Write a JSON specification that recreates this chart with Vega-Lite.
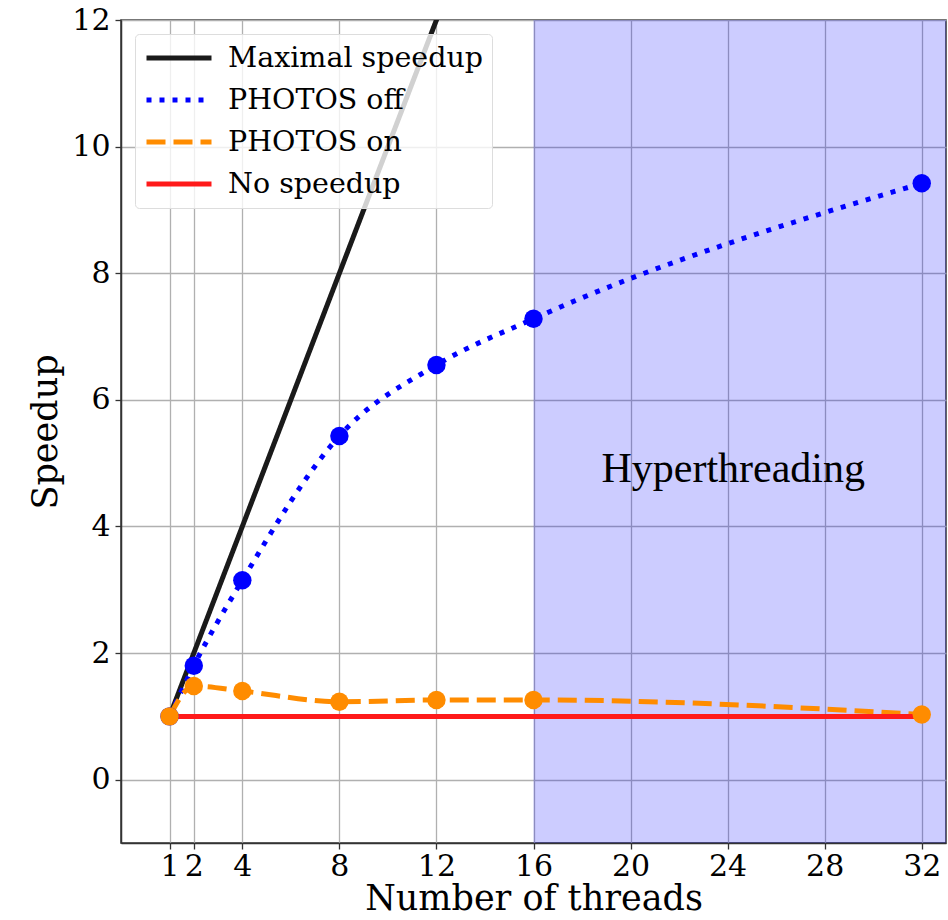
{
  "$schema": "https://vega.github.io/schema/vega-lite/v6.json",
  "autosize": "none",
  "padding": {"left": 121, "top": 20, "right": 2, "bottom": 77},
  "width": 825,
  "height": 823,
  "background": "white",
  "config": {
    "font": "DejaVu Serif",
    "view": {"stroke": "#333333", "strokeWidth": 1.5},
    "axis": {
      "grid": true,
      "gridColor": "#b0b0b0",
      "gridWidth": 1.3,
      "tickColor": "#333333",
      "tickSize": 6,
      "tickWidth": 1.3,
      "domainColor": "#333333",
      "domainWidth": 1.5,
      "labelColor": "black",
      "titleColor": "black",
      "labelFont": "DejaVu Serif",
      "titleFont": "DejaVu Serif",
      "labelFontSize": 30,
      "titleFontSize": 35,
      "titleFontWeight": "normal"
    },
    "legend": {
      "orient": "top-left",
      "offset": 14,
      "title": null,
      "symbolType": "stroke",
      "symbolSize": 4225,
      "symbolStrokeWidth": 5,
      "clipHeight": 30,
      "rowPadding": 12,
      "labelFont": "DejaVu Serif",
      "labelFontSize": 28.5,
      "labelColor": "black",
      "labelOffset": 14,
      "labelLimit": 400,
      "padding": 9,
      "fillColor": "rgba(255,255,255,0.8)",
      "strokeColor": "#dddddd",
      "cornerRadius": 4
    }
  },
  "datasets": {
    "lines": [
      {"series": "Maximal speedup", "threads": 1, "speedup": 1},
      {"series": "Maximal speedup", "threads": 32, "speedup": 32},
      {"series": "PHOTOS off", "threads": 1, "speedup": 1},
      {"series": "PHOTOS off", "threads": 2, "speedup": 1.8},
      {"series": "PHOTOS off", "threads": 4, "speedup": 3.15},
      {"series": "PHOTOS off", "threads": 8, "speedup": 5.43},
      {"series": "PHOTOS off", "threads": 12, "speedup": 6.55},
      {"series": "PHOTOS off", "threads": 16, "speedup": 7.28},
      {"series": "PHOTOS off", "threads": 32, "speedup": 9.42},
      {"series": "PHOTOS on", "threads": 1, "speedup": 1},
      {"series": "PHOTOS on", "threads": 2, "speedup": 1.48},
      {"series": "PHOTOS on", "threads": 4, "speedup": 1.4},
      {"series": "PHOTOS on", "threads": 8, "speedup": 1.23},
      {"series": "PHOTOS on", "threads": 12, "speedup": 1.26},
      {"series": "PHOTOS on", "threads": 16, "speedup": 1.26},
      {"series": "PHOTOS on", "threads": 32, "speedup": 1.03},
      {"series": "No speedup", "threads": 1, "speedup": 1},
      {"series": "No speedup", "threads": 32, "speedup": 1}
    ],
    "label": [{"text": "Hyperthreading"}]
  },
  "layer": [
    {
      "data": {"values": [{"region": "Hyperthreading"}]},
      "mark": {"type": "rect", "color": "#0000ff", "opacity": 0.2, "clip": true},
      "encoding": {
        "x": {"datum": 16, "type": "quantitative"},
        "x2": {"datum": 40},
        "y": {"datum": -5, "type": "quantitative"},
        "y2": {"datum": 20}
      }
    },
    {
      "data": {"name": "lines"},
      "mark": {"type": "line", "interpolate": "monotone", "strokeWidth": 5, "clip": true, "strokeCap": "butt"},
      "encoding": {
        "x": {
          "field": "threads", "type": "quantitative",
          "scale": {"domain": [-1, 33], "nice": false, "zero": false},
          "axis": {"title": "Number of threads", "values": [1, 2, 4, 8, 12, 16, 20, 24, 28, 32], "format": "d", "labelPadding": 2, "titlePadding": 0}
        },
        "y": {
          "field": "speedup", "type": "quantitative",
          "scale": {"domain": [-1, 12], "nice": false, "zero": false},
          "axis": {"title": "Speedup", "values": [0, 2, 4, 6, 8, 10, 12], "format": "d", "labelPadding": 5, "titlePadding": 8}
        },
        "color": {
          "field": "series", "type": "nominal",
          "scale": {"domain": ["Maximal speedup", "PHOTOS off", "PHOTOS on", "No speedup"], "range": ["#1a1a1a", "#0000ff", "#ff8c00", "#ff1a1a"]}
        },
        "strokeDash": {
          "field": "series", "type": "nominal",
          "scale": {"domain": ["Maximal speedup", "PHOTOS off", "PHOTOS on", "No speedup"], "range": [[1, 0], [5, 8], [19, 8], [1, 0]]}
        },
        "order": {"field": "threads", "type": "quantitative"}
      }
    },
    {
      "data": {"name": "lines"},
      "transform": [{"filter": "datum.series === 'PHOTOS off'"}],
      "mark": {"type": "point", "filled": true, "shape": "circle", "size": 340, "color": "#0000ff", "opacity": 1},
      "encoding": {
        "x": {"field": "threads", "type": "quantitative"},
        "y": {"field": "speedup", "type": "quantitative"}
      }
    },
    {
      "data": {"name": "lines"},
      "transform": [{"filter": "datum.series === 'PHOTOS on'"}],
      "mark": {"type": "point", "filled": true, "shape": "circle", "size": 340, "color": "#ff8c00", "opacity": 1},
      "encoding": {
        "x": {"field": "threads", "type": "quantitative"},
        "y": {"field": "speedup", "type": "quantitative"}
      }
    },
    {
      "data": {"name": "label"},
      "mark": {"type": "text", "font": "Liberation Serif", "fontSize": 42, "align": "left", "baseline": "alphabetic", "color": "black"},
      "encoding": {
        "text": {"field": "text"},
        "x": {"datum": 18.8, "type": "quantitative"},
        "y": {"datum": 4.7, "type": "quantitative"}
      }
    }
  ]
}
